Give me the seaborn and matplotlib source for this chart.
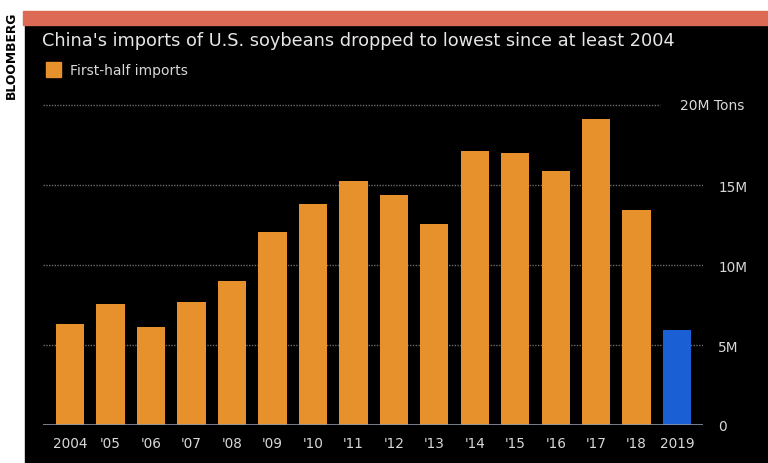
import matplotlib
matplotlib.use('Agg')
import matplotlib.pyplot as plt
import matplotlib.patches as mpatches
import seaborn as sns
import pandas as pd

'''
Data read off the Bloomberg chart (million tons, first-half imports)
'''

years = ['2004', "'05", "'06", "'07", "'08", "'09", "'10", "'11", "'12", "'13",
         "'14", "'15", "'16", "'17", "'18", '2019']
imports_m = [6.3, 7.55, 6.1, 7.7, 9.0, 12.05, 13.8, 15.25, 14.4, 12.55,
             17.1, 17.0, 15.9, 19.1, 13.45, 5.95]
y_ticks = [0, 5, 10, 15]
y_tick_labels = ['0', '5M', '10M', '15M']

orange = '#e6912b'
blue = '#1a5fd3'
txt = '#d8d8d8'

sns.set_style('dark')
plt.rcParams['font.family'] = ['DejaVu Sans']

df = pd.DataFrame({'Year': years, 'Imports': imports_m})
bar_colors = {y: orange for y in years}
bar_colors['2019'] = blue

fig = plt.figure(figsize=(7.68, 4.64), dpi=100, facecolor='white')

# Black panel and coral header stripe (kept behind the axes)
fig.patches.append(mpatches.Rectangle((25 / 768, 0), 1, (464 - 25) / 464,
                                      transform=fig.transFigure, color='black', zorder=-10))
fig.patches.append(mpatches.Rectangle((23 / 768, (464 - 26) / 464), 1, 14 / 464,
                                      transform=fig.transFigure, color='#dd6a55', zorder=-10))
fig.text(11 / 768, (464 - 12) / 464, 'BLOOMBERG', rotation=90, ha='center', va='top',
         fontsize=8.8, fontweight='bold', color='black')

ax = fig.add_axes([43 / 768, 38 / 464, 660 / 768, 328 / 464])
ax.set_facecolor('black')

sns.barplot(data=df, x='Year', y='Imports', hue='Year', palette=bar_colors,
            width=0.7, legend=False, saturation=1, linewidth=0, ax=ax, zorder=3)

ax.set_xlim(-0.67, 15.64)
ax.set_ylim(0, 20.5)

# Dotted gridlines
for v in [5, 10, 15]:
    ax.axhline(v, color='#6a6a6a', linestyle=(0, (1, 1)), linewidth=1.0, zorder=1)
ax.axhline(20, xmin=0, xmax=(660 - 43) / 660, color='#6a6a6a',
           linestyle=(0, (1, 1)), linewidth=1.0, zorder=1)
ax.axhline(0, color='#8a96a8', linewidth=1.2, zorder=4)

ax.grid(False)
for s in ax.spines.values():
    s.set_visible(False)

ax.yaxis.tick_right()
ax.set_yticks(y_ticks)
ax.set_yticklabels(y_tick_labels)
ax.tick_params(axis='y', length=0, pad=11, labelsize=9.8, labelcolor=txt)
ax.tick_params(axis='x', length=4, width=0.8, color='#8a96a8', pad=4,
               labelsize=9.8, labelcolor=txt)
ax.text(1.062, 20, '20M Tons', transform=ax.get_yaxis_transform(), ha='right',
        va='center', fontsize=10, color=txt)
ax.set_xlabel('')
ax.set_ylabel('')

# Title and legend
fig.text(42 / 768, (464 - 41) / 464,
         "China's imports of U.S. soybeans dropped to lowest since at least 2004",
         ha='left', va='center', fontsize=12.8, color='#e6e6e6')
fig.patches.append(mpatches.Rectangle((46 / 768, (464 - 78) / 464), 15 / 768, 15 / 464,
                                      transform=fig.transFigure, color=orange, zorder=2))
fig.text(70 / 768, (464 - 71) / 464, 'First-half imports', ha='left', va='center',
         fontsize=10, color=txt)

plt.savefig('out.png', dpi=100, facecolor=fig.get_facecolor())
